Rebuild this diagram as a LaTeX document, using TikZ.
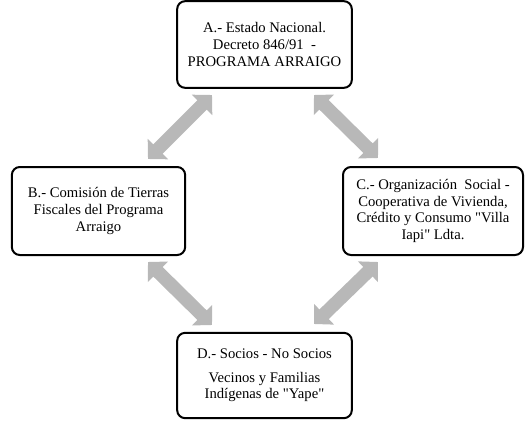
\documentclass[tikz,border=0pt]{standalone}
\usepackage{fontspec}
\setmainfont{Liberation Serif}[Ligatures=TeXOff]
\usetikzlibrary{positioning, arrows.meta}
\tikzset{%
  % rounded box for each actor
  actorbox/.style={rectangle, draw, line width=1.5pt, rounded corners=6pt, align=center, inner sep=2pt, font=\fontsize{11}{12.5}\selectfont},
  % thick grey double arrow between two actors
  linkarrow/.style={line width=10pt, draw=black!28, {Triangle[width=21pt, length=10.5pt]}-{Triangle[width=21pt, length=10.5pt]}},
}
\begin{document}
\begin{tikzpicture}[x=0.75pt, y=-0.75pt]
  \useasboundingbox (0,0) rectangle (526,421);
  \node[actorbox, minimum width=131pt, minimum height=65pt] (A) at (264.5,44.5) {A.- Estado Nacional.\\ Decreto 846/91 \ -\\ PROGRAMA ARRAIGO};
  \node[actorbox, minimum width=130pt, minimum height=66pt] (B) at (98.5,211) {B.- Comisión de Tierras\\ Fiscales del Programa\\ Arraigo};
  \node[actorbox, minimum width=135pt, minimum height=66pt] (C) at (433,211) {C.- Organización \ Social -\\ Cooperativa de Vivienda,\\ Crédito y Consumo "Villa\\ Iapi" Ldta.};
  \node[actorbox, minimum width=131pt, minimum height=64pt] (D) at (264.5,375.5) {D.- Socios - No Socios\\[5pt] Vecinos y Familias\\ Indígenas de "Yape"};

  % arrow ends
  \coordinate (ab1) at (148,159); \coordinate (ab2) at (212,95);
  \coordinate (ac1) at (314,95); \coordinate (ac2) at (378,158);
  \coordinate (bd1) at (148,262); \coordinate (bd2) at (212,325);
  \coordinate (cd1) at (378,262); \coordinate (cd2) at (314,324);
  \foreach \s/\e in {ab1/ab2, ac1/ac2, bd1/bd2, cd1/cd2} {
    \draw[linkarrow] (\s) -- (\e);
  }
\end{tikzpicture}
\end{document}
